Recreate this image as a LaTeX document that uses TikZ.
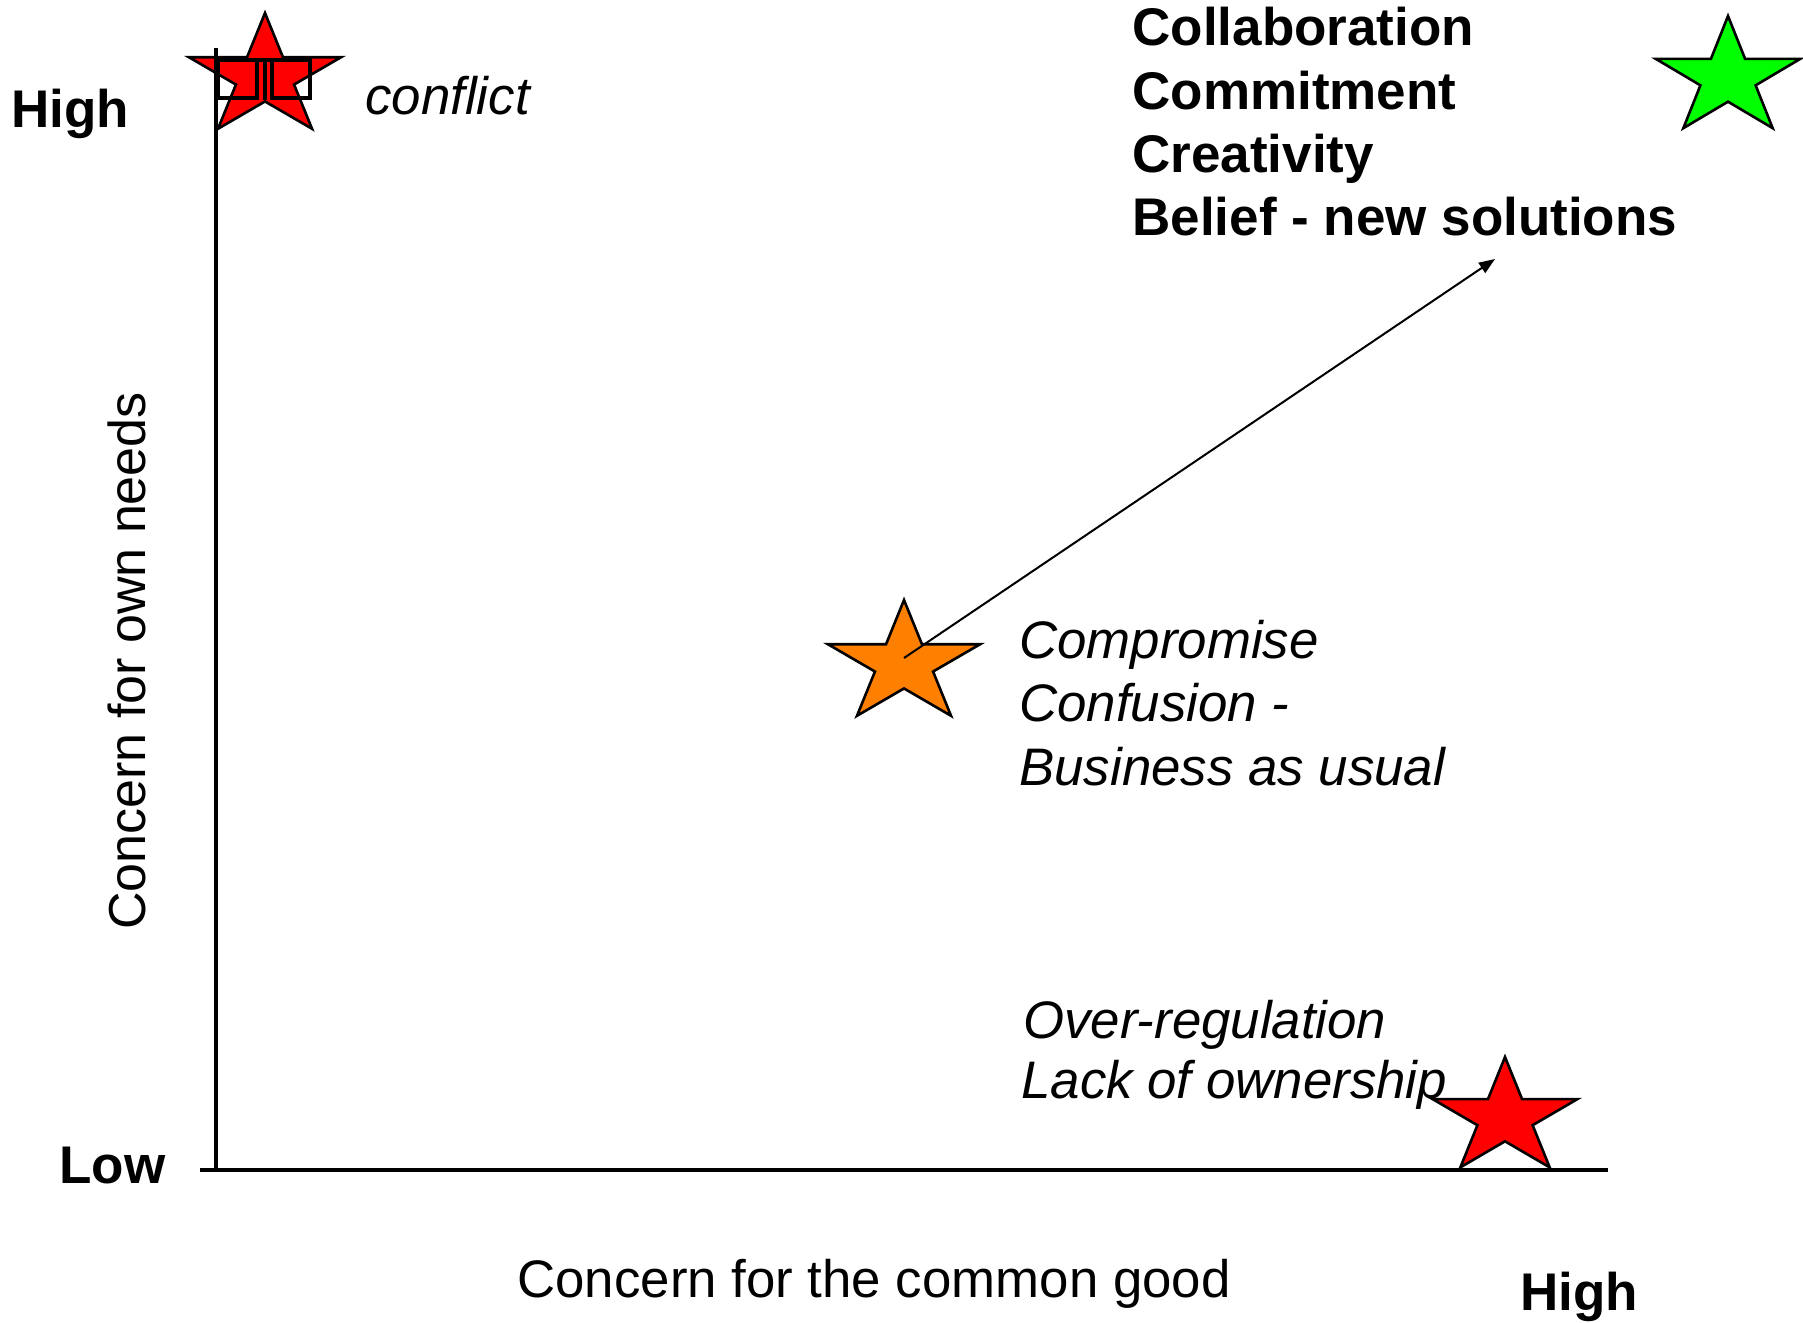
\documentclass[tikz,border=0pt]{standalone}
\usepackage{fontspec}
\setmainfont{Liberation Sans}
\usetikzlibrary{arrows.meta}
\newcommand\drawstar[5]{%
  \filldraw[fill=#1, starline]
    plot[samples at={0,...,9}] ({#2+ifthenelse(mod(\x,2)==0,1,0.382)*#4*cos(90+36*\x)},
                                 {#3-ifthenelse(mod(\x,2)==0,1,0.382)*#5*sin(90+36*\x)}) -- cycle;}
\definecolor{starred}{HTML}{FF0000}
\definecolor{starorange}{HTML}{FF8000}
\definecolor{stargreen}{HTML}{00FF00}
\begin{document}
\begin{tikzpicture}[x=0.5pt,y=-0.5pt,
  txt/.style={inner sep=0pt, anchor=base west, font=\fontsize{26.4}{31.7}\selectfont},
  boldtxt/.style={txt, font=\fontsize{26.5}{31.7}\selectfont\bfseries},
  itxt/.style={txt, font=\fontsize{26.4}{31.7}\selectfont\itshape},
  axisline/.style={line width=2pt},
  starline/.style={line width=1.3pt, draw=black, line join=miter},
  flagline/.style={line width=1.6pt, draw=black},
  conn/.style={line width=1pt, -{Triangle[length=8pt,width=6pt]}}]
\useasboundingbox (0,0) rectangle (1803,1322);
% axes
\coordinate (ytop) at (216,48);
\coordinate (origin) at (216,1170);
\coordinate (xleft) at (200,1170);
\coordinate (xright) at (1608,1170);
% top-left star with flags
\drawstar{starred}{265}{77}{80}{64}
\draw[axisline] (ytop) -- (origin);
\draw[axisline] (xleft) -- (xright);
\draw[flagline] (218,60) rectangle (257,98);
\draw[flagline] (272,60) rectangle (310,98);
\draw[flagline] (257,60) -- (272,60);
\draw[flagline] (265,60) -- (265,100);
% other stars
\drawstar{starorange}{904}{664}{80}{64}
\drawstar{starred}{1505}{1118}{76}{61}
\drawstar{stargreen}{1728}{78}{76}{62}
% arrow
\coordinate (os) at (904,658);
\coordinate (tip) at (1495,259);
\draw[conn] (os) -- (tip);
% labels
\node[boldtxt] (hiY) at (11,127) {High};
\node[boldtxt] (lo) at (59,1183) {Low};
\node[boldtxt] (hiX) at (1520,1310) {High};
\node[itxt] (conf) at (365,115) {conflict};
\node[boldtxt] (c1) at (1132,46) {Collaboration};
\node[boldtxt] (c2) at (1132,110) {Commitment};
\node[boldtxt] (c3) at (1132,172) {Creativity};
\node[boldtxt] (c4) at (1132,235) {Belief - new solutions};
\node[itxt] (m1) at (1019,658) {Compromise};
\node[itxt] (m2) at (1019,721) {Confusion -};
\node[itxt] (m3) at (1019,785) {Business as usual};
\node[itxt] (r1) at (1023,1038) {Over-regulation};
\node[itxt] (r2) at (1021,1098) {Lack of ownership};
\node[txt] (xl) at (517,1297) {Concern for the common good};
\node[txt, anchor=base, rotate=90, font=\fontsize{26.0}{31.2}\selectfont] (yl) at (145,661) {Concern for own needs};
\end{tikzpicture}
\end{document}
